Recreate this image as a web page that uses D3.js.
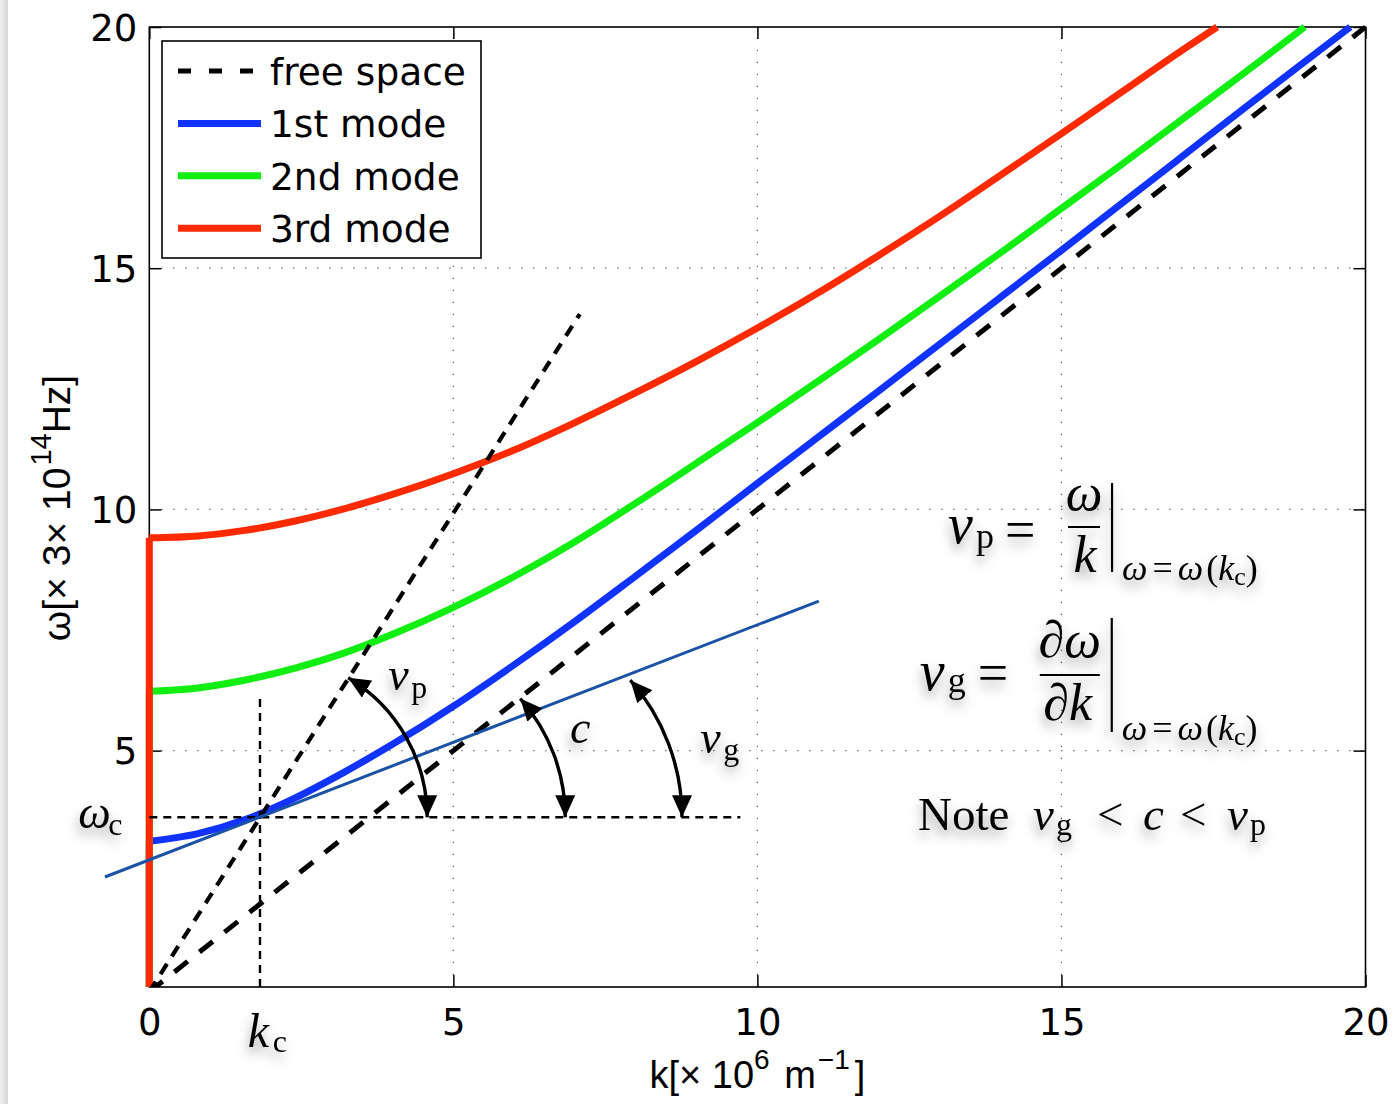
<!DOCTYPE html>
<html>
<head>
<meta charset="utf-8">
<script src="https://cdn.jsdelivr.net/npm/d3@7"></script>
<style>
body{margin:0;background:#fff}
svg{display:block}
</style>
</head>
<body>
<div id="viz"></div>
<script>
// ---- data ----
const kTicks=[0,5,10,15,20];
const wTicks=[5,10,15,20];
const gridVals=[5,10,15];

const freeK=[0,20];
const freeW=[0,20];

const k1=[0,0,0.8,1.6,2.4,3.2,4,5,6,7,8,9,10,11,12,13,14,15,16,17,18,19,19.75];
const w1=[0,3.12,3.28,3.58,4.02,4.55,5.13,5.92,6.78,7.68,8.62,9.57,10.54,11.5,12.46,13.43,14.4,15.37,16.35,17.33,18.31,19.28,20];
const k2=[0,0,0.8,1.6,2.4,3.2,4,5,6,7,8,9,10,11,12,13,14,15,16,17,18,19];
const w2=[0,6.23,6.3,6.47,6.71,7.02,7.41,7.97,8.61,9.33,10.13,10.96,11.8,12.66,13.53,14.42,15.32,16.24,17.16,18.1,19.04,20];
const k3=[0,0,0.8,1.6,2.4,3.2,4,5,6,7,8,9,10,11,12,13,14,15,16,17,17.56];
const w3=[0,9.41,9.45,9.57,9.76,10.01,10.31,10.74,11.23,11.8,12.42,13.07,13.76,14.49,15.27,16.08,16.93,17.79,18.66,19.53,20];

const modeNames=['1st mode','2nd mode','3rd mode'];
const modeColors=['#1133ff','#11ee11','#ff2a00'];

// construction lines
const kc=1.82, wc=3.62;
const vpK=[0,7.08], vpW=[0,14.05];
const tanK=[-0.73,11.01], tanW=[2.38,8.1];
const hK=[0,9.72], hW=[wc,wc];
const vK=[kc,kc], vW=[0.1,6.11];
// curved arrows: start k, start w, end k, end w
const arcs=[[3.27,6.51,4.57,wc],[6.10,6.08,6.84,wc],[7.91,6.46,8.76,wc]];

// ---- setup ----
const W=1394, H=1104;
const SANS='"DejaVu Sans",sans-serif';
const LAB='"Liberation Sans",Arial,sans-serif';
const SERIF='"Liberation Serif","DejaVu Serif",serif';

const x=d3.scaleLinear().domain([0,20]).range([149.3,1365.5]);
const y=d3.scaleLinear().domain([0.1,20]).range([987,27]);
const zip=(a,b)=>a.map((v,i)=>[v,b[i]]);
const line=d3.line().x(d=>x(d[0])).y(d=>y(d[1]));
const smooth=d3.line().x(d=>x(d[0])).y(d=>y(d[1])).curve(d3.curveMonotoneX);

const svg=d3.select('#viz').append('svg').attr('width',W).attr('height',H);
const defs=svg.append('defs');

const grad=defs.append('linearGradient').attr('id','edge');
grad.append('stop').attr('offset','0%').attr('stop-color','#f0f0f0');
grad.append('stop').attr('offset','100%').attr('stop-color','#d6d6d6');

const f=defs.append('filter').attr('id','sh').attr('x','-60%').attr('y','-60%').attr('width','220%').attr('height','220%');
f.append('feDropShadow').attr('dx',-1).attr('dy',7).attr('stdDeviation',6)
  .attr('flood-color','#000').attr('flood-opacity',0.38);

defs.append('marker').attr('id','ah').attr('viewBox','0 0 22 20')
  .attr('refX',22).attr('refY',10).attr('markerWidth',22).attr('markerHeight',20)
  .attr('markerUnits','userSpaceOnUse').attr('orient','auto-start-reverse')
  .append('path').attr('d','M0,0 L22,10 L0,20 Z').attr('fill','#000');

defs.append('clipPath').attr('id','clip').append('rect')
  .attr('x',x(0)-5).attr('y',y(20)-5).attr('width',x(20)-x(0)+5).attr('height',y(0.1)-y(20)+5);

svg.append('rect').attr('width',W).attr('height',H).attr('fill','#fff');
svg.append('rect').attr('x',0).attr('y',0).attr('width',8).attr('height',H).attr('fill','url(#edge)');

// grid
const grid=svg.append('g').attr('stroke','#555').attr('stroke-width',1.2).attr('stroke-dasharray','1.2,10.8');
grid.selectAll('.gx').data(gridVals).enter().append('line')
  .attr('x1',d=>x(d)).attr('x2',d=>x(d)).attr('y1',y(0.1)).attr('y2',y(20));
grid.selectAll('.gy').data(gridVals).enter().append('line')
  .attr('y1',d=>y(d)).attr('y2',d=>y(d)).attr('x1',x(0)).attr('x2',x(20));

// axes
function styleAxis(g){
  g.select('.domain').remove();
  g.attr('font-size',37).attr('font-family',SANS);
  g.selectAll('line').attr('stroke','#000').attr('stroke-width',1.5);
  g.selectAll('text').attr('fill','#000');
}
svg.append('g').attr('transform',`translate(0,${y(0.1)})`)
  .call(d3.axisBottom(x).tickValues(kTicks).tickSize(-12).tickPadding(21)).call(styleAxis);
svg.append('g').attr('transform',`translate(${x(0)},0)`)
  .call(d3.axisLeft(y).tickValues(wTicks).tickSize(-12).tickPadding(12)).call(styleAxis);
svg.append('g').attr('transform',`translate(0,${y(20)})`)
  .call(d3.axisTop(x).tickValues(kTicks).tickSize(-12).tickFormat('')).call(styleAxis);
svg.append('g').attr('transform',`translate(${x(20)},0)`)
  .call(d3.axisRight(y).tickValues(wTicks).tickSize(-12).tickFormat('')).call(styleAxis);
svg.selectAll('.tick text').each(function(){
  const t=d3.select(this);
  if(t.attr('y')!==null && +t.attr('y')>0) t.attr('dy','0.72em');
  else t.attr('dy','0.36em');
});

svg.append('rect').attr('x',x(0)).attr('y',y(20)).attr('width',x(20)-x(0)).attr('height',y(0.1)-y(20))
  .attr('fill','none').attr('stroke','#000').attr('stroke-width',1.6);

// axis titles
const xl=svg.append('text').attr('x',x(10)).attr('y',1088).attr('text-anchor','middle')
  .attr('font-family',LAB).attr('font-size',38).attr('fill','#000');
xl.append('tspan').text('k[× 10');
xl.append('tspan').attr('dy',-19).attr('font-size',28).text('6');
xl.append('tspan').attr('dy',19).attr('dx',4).text(' m');
xl.append('tspan').attr('dy',-19).attr('dx',2).attr('font-size',28).text('−1');
xl.append('tspan').attr('dy',19).attr('dx',5).text(']');

const yl=svg.append('text').attr('transform','translate(70,508) rotate(-90)').attr('text-anchor','middle')
  .attr('font-family',LAB).attr('font-size',39).attr('fill','#000');
yl.append('tspan').text('ω[× 3× 10');
yl.append('tspan').attr('dy',-19).attr('dx',2).attr('font-size',29).text('14');
yl.append('tspan').attr('dy',19).text('Hz]');

// data lines
const plot=svg.append('g').attr('clip-path','url(#clip)');
plot.append('path').attr('d',line(zip(freeK,freeW))).attr('fill','none')
  .attr('stroke','#000').attr('stroke-width',5).attr('stroke-dasharray','17,15');

[[k1,w1],[k2,w2],[k3,w3]].forEach((m,i)=>{
  const pts=zip(m[0],m[1]);
  const g=plot.append('g').attr('fill','none').attr('stroke',modeColors[i]).attr('stroke-width',7);
  g.append('path').attr('d',line(pts.slice(0,2)));
  g.append('path').attr('d',smooth(pts.slice(1))).attr('stroke-linejoin','round');
});

// construction lines
plot.append('path').attr('d',line(zip(vpK,vpW))).attr('fill','none')
  .attr('stroke','#000').attr('stroke-width',4.2).attr('stroke-dasharray','12,9');
svg.append('path').attr('d',line(zip(hK,hW))).attr('fill','none')
  .attr('stroke','#000').attr('stroke-width',2.4).attr('stroke-dasharray','8,6');
svg.append('path').attr('d',line(zip(vK,vW))).attr('fill','none')
  .attr('stroke','#000').attr('stroke-width',2.4).attr('stroke-dasharray','8,6');
svg.append('path').attr('d',line(zip(tanK,tanW))).attr('fill','none')
  .attr('stroke','#1a52a8').attr('stroke-width',3);

// curved double arrows (vertical tangent at the lower end)
arcs.forEach(a=>{
  const sx=x(a[0]), sy=y(a[1]), ex=x(a[2]), ey=y(a[3]);
  const dx=ex-sx, dy=ey-sy;
  const r=(dx*dx+dy*dy)/(2*dx);
  svg.append('path').attr('d',`M${sx},${sy} A${r},${r} 0 0 1 ${ex},${ey}`)
    .attr('fill','none').attr('stroke','#000').attr('stroke-width',3.4)
    .attr('marker-start','url(#ah)').attr('marker-end','url(#ah)');
});

// math-style labels with soft shadow
function tex(k,w,parts){
  const g=svg.append('g').attr('filter','url(#sh)').attr('font-family',SERIF).attr('fill','#000');
  const x0=x(k), y0=y(w);
  parts.forEach(p=>{
    if(p[0]==='|'||p[0]==='-'){
      g.append('line').attr('x1',x0+p[1]).attr('y1',y0+p[2]).attr('x2',x0+p[3]).attr('y2',y0+p[4])
        .attr('stroke','#000').attr('stroke-width',2.2);
      return;
    }
    if(p[0]==='sub'){
      const t=g.append('text').attr('x',x0+p[1]).attr('y',y0+p[2]).attr('font-size',36);
      t.append('tspan').attr('font-style','italic').text('ω');
      t.append('tspan').attr('dx',5).text('=');
      t.append('tspan').attr('dx',5).attr('font-style','italic').text('ω');
      t.append('tspan').attr('dx',3).text('(');
      t.append('tspan').attr('font-style','italic').text('k');
      t.append('tspan').attr('dy',5).attr('font-size',26).text('c');
      t.append('tspan').attr('dy',-5).text(')');
      return;
    }
    g.append('text').attr('x',x0+p[1]).attr('y',y0+p[2]).attr('font-size',p[3])
      .attr('font-style',p[4]?'italic':'normal').attr('text-anchor',p[5]||'start').text(p[0]);
  });
}
tex(-1.17,3.4,[['ω',0,0,46,true],['c',30,7,32]]);
tex(1.62,-1.14,[['k',0,0,48,true],['c',25,5,32]]);
tex(3.93,6.26,[['v',0,0,46,true],['p',23,8,32]]);
tex(6.92,5.16,[['c',0,0,46,true]]);
tex(9.06,4.95,[['v',0,0,46,true],['g',23,7,32]]);

tex(13.135,9.304,[['v',0,0,56,true],['p',28,5,36],['=',57,5,54],
  ['ω',136,-33,52,true,'middle'],['-',120,-16,152,-16],['k',137,29,52,true,'middle'],
  ['|',164,-60,164,29],['sub',174,37]]);
tex(12.67,6.257,[['v',0,0,56,true],['g',28,2,36],['=',58,1,54],
  ['∂ω',150,-33,52,true,'middle'],['-',120,-15,180,-15],['∂k',148,30,52,true,'middle'],
  ['|',192,-72,192,42],['sub',202,50]]);
tex(12.64,3.354,[['Note',0,0,47],['v',115,0,47,true],['g',138,5,32],['<',179,0,47],
  ['c',225,0,47,true],['<',262,0,47],['v',309,0,47,true],['p',332,5,32]]);

// legend
const leg=svg.append('g').attr('transform','translate(162,41)').attr('font-family',SANS);
leg.append('rect').attr('width',319).attr('height',217).attr('fill','#fff').attr('stroke','#000').attr('stroke-width',1.6);
const rows=[{name:'free space',color:'#000',dash:'13,18',w:5}].concat(
  modeNames.map((n,i)=>({name:n,color:modeColors[i],dash:null,w:7})));
rows.forEach((r,i)=>{
  const cy=30+i*52.4;
  leg.append('line').attr('x1',16).attr('x2',99).attr('y1',cy).attr('y2',cy)
    .attr('stroke',r.color).attr('stroke-width',r.w).attr('stroke-dasharray',r.dash);
  leg.append('text').attr('x',108).attr('y',cy+14).attr('font-size',37.5).attr('fill','#000').text(r.name);
});
</script>
</body>
</html>
